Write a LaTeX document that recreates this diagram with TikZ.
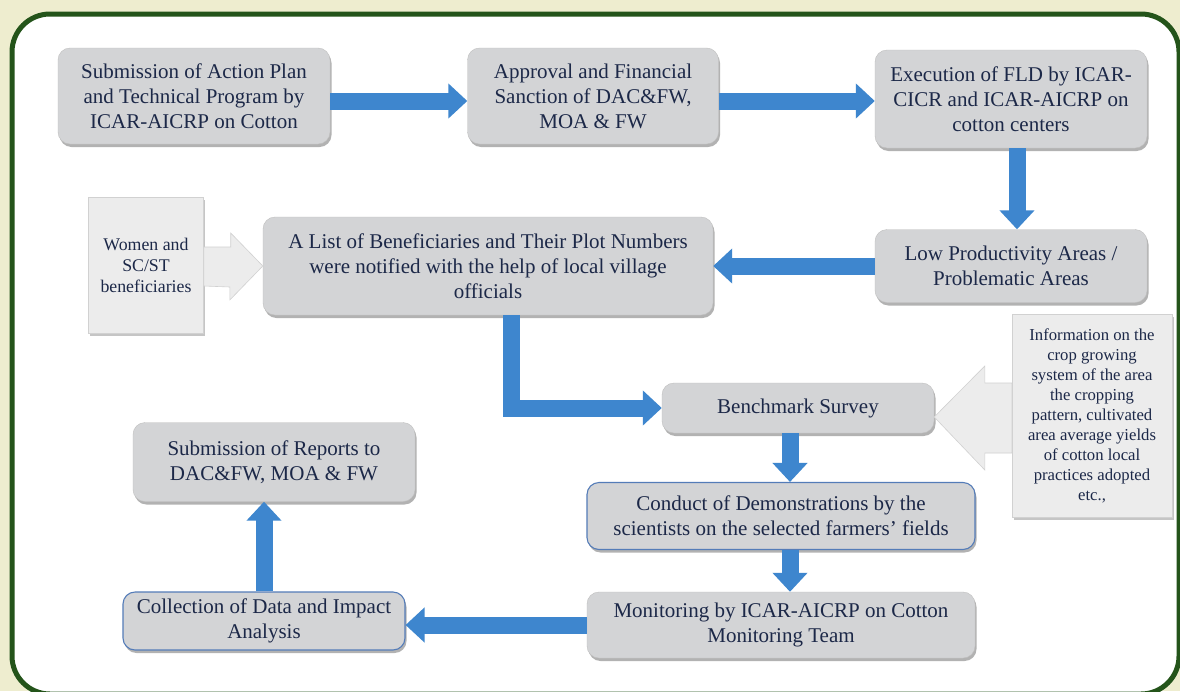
\documentclass[tikz,border=0pt]{standalone}
\usepackage{fontspec}
\setmainfont{Liberation Serif}
\usetikzlibrary{arrows.meta,shadows,calc,positioning}
\definecolor{bgcream}{RGB}{238,237,207}
\definecolor{framegreen}{RGB}{36,84,26}
\definecolor{boxgray}{RGB}{211,212,214}
\definecolor{notegray}{RGB}{236,236,236}
\definecolor{flowblue}{RGB}{62,134,206}
\definecolor{edgeblue}{RGB}{84,124,184}
\definecolor{txtnavy}{RGB}{28,40,72}

\begin{document}
\begin{tikzpicture}[x=1pt,y=-1pt,
	stage/.style={draw=black!25, fill=boxgray, rounded corners=12pt, align=center, text=txtnavy, inner sep=0pt,
		font=\fontsize{21}{25}\selectfont, drop shadow={shadow xshift=1.5pt, shadow yshift=-3pt, fill=black!55, opacity=.55}},
	stageblue/.style={stage, draw=edgeblue, line width=1.1pt},
	note/.style={draw=black!18, fill=notegray, align=center, text=txtnavy, inner sep=0pt,
		drop shadow={shadow xshift=1.5pt, shadow yshift=-2.5pt, fill=black!45, opacity=.5}},
	flow/.style={draw=flowblue, line width=17pt, -{Triangle[length=19pt,width=34pt]}},
	bigarrow/.style={draw=black!18, fill=notegray, line width=.6pt, line join=miter}]
	% page and frame
	\useasboundingbox (0,0) rectangle (1180,691);
	\fill[bgcream] (0,0) rectangle (1180,691);
	\draw[framegreen, fill=white, line width=5pt, rounded corners=38pt] (12,14) rectangle (1179,694);
	% stages
	\node[stage, minimum width=272, minimum height=96] (A) at (194,96) {Submission of Action Plan\\and Technical Program by\\ICAR-AICRP on Cotton};
	\node[stage, minimum width=251, minimum height=96] (B) at (593,96) {Approval and Financial\\Sanction of DAC\&FW,\\MOA \& FW};
	\node[stage, minimum width=272, minimum height=98] (C) at (1011,99) {Execution of FLD by ICAR-\\CICR and ICAR-AICRP on\\cotton centers};
	\node[stage, minimum width=272, minimum height=73] (D) at (1011,266) {Low Productivity Areas /\\Problematic Areas};
	\node[stage, minimum width=450, minimum height=98] (E) at (488,266) {A List of Beneficiaries and Their Plot Numbers\\were notified with the help of local village\\officials};
	\node[stage, minimum width=272, minimum height=50] (F) at (798,408) {Benchmark Survey};
	\node[stageblue, minimum width=388, minimum height=67] (H) at (781,516) {Conduct of Demonstrations by the\\scientists on the selected farmers’ fields};
	\node[stage, minimum width=388, minimum height=66] (I) at (781,625) {Monitoring by ICAR-AICRP on Cotton\\Monitoring Team};
	\node[stageblue, minimum width=282, minimum height=58] (J) at (264,621) {Collection of Data and Impact\\Analysis};
	\node[stage, minimum width=282, minimum height=79] (K) at (274,462) {Submission of Reports to\\DAC\&FW, MOA \& FW};
	% side notes
	\node[note, minimum width=115, minimum height=136, font=\fontsize{17.8}{21}\selectfont] (women) at (146,265) {Women and\\SC/ST\\beneficiaries};
	\node[note, minimum width=160, minimum height=203, font=\fontsize{16.7}{20}\selectfont] (info) at (1092,416) {Information on the\\crop growing\\system of the area\\the cropping\\pattern, cultivated\\area average yields\\of cotton local\\practices adopted\\etc.,};
	% blue flow arrows
	\draw[flow] ([yshift=-5pt]A.east) -- ([yshift=-5pt]B.west);
	\draw[flow] ([yshift=-5pt]B.east) -- ([yshift=-5pt]B.east -| C.west);
	\draw[flow] ([xshift=6pt]C.south) -- ([xshift=6pt]D.north);
	\draw[flow] (D.west) -- (E.east);
	\draw[flow] ([xshift=23pt]E.south) |- (F.west);
	\draw[flow] ([xshift=-8pt]F.south) -- ([xshift=9pt]H.north);
	\draw[flow] ([xshift=9pt]H.south) -- ([xshift=9pt]I.north);
	\draw[flow] (I.west) -- (I.west -| J.east);
	\draw[flow] (J.north) -- (J.north |- K.south);
	% grey input arrows
	\draw[bigarrow] ($(women.east)+(0,-18)$) -- ++(27,0) -- ++(0,-14) -- (E.west) -- ($(E.west)+(-33,34)$) -- ++(0,-13) -- ($(women.east)+(0,21)$) -- cycle;
	\draw[bigarrow] ($(info.west)+(0,-33)$) -- ++(-27,0) -- ++(0,-17) -- ($(F.east)+(0,9)$) -- ($(info.west)+(-27,54)$) -- ++(0,-17) -- ($(info.west)+(0,37)$) -- cycle;
\end{tikzpicture}
\end{document}
